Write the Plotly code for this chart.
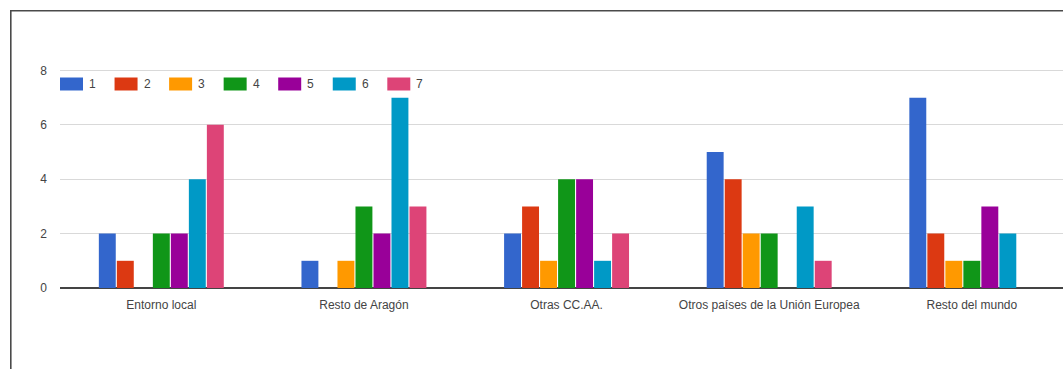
import plotly.graph_objects as go

# Categories and responses per rating (1..7)
categories = ["Entorno local", "Resto de Aragón", "Otras CC.AA.",
              "Otros países de la Unión Europea", "Resto del mundo"]
series_names = ["1", "2", "3", "4", "5", "6", "7"]
s1 = [2, 1, 2, 5, 7]
s2 = [1, 0, 3, 4, 2]
s3 = [0, 1, 1, 2, 1]
s4 = [2, 3, 4, 2, 1]
s5 = [2, 2, 4, 0, 3]
s6 = [4, 7, 1, 3, 2]
s7 = [6, 3, 2, 1, 0]
y_ticks = [0, 2, 4, 6, 8]

series_values = [s1, s2, s3, s4, s5, s6, s7]
colors = ["#3366cc", "#dc3912", "#ff9900", "#109618",
          "#990099", "#0099c6", "#dd4477"]

W, H = 1063, 369
ML, MR, MT, MB = 60, 0, 65, 81
PW, PH = W - ML - MR, H - MT - MB

def px_x(x):
    return (x - ML) / PW

def px_y(y):
    return (H - MB - y) / PH

font = "Liberation Sans, Arial, sans-serif"

fig = go.Figure()
for name, vals, col in zip(series_names, series_values, colors):
    fig.add_trace(go.Bar(
        x=categories, y=vals, name=name,
        marker=dict(color=col, line=dict(width=0)),
        showlegend=False,
    ))

shapes = []
annotations = []

# Legend row along the top of the plot
for i, (name, col) in enumerate(zip(series_names, colors)):
    left = 60 + 54.55 * i
    shapes.append(dict(
        type="rect", xref="paper", yref="paper",
        x0=px_x(left), x1=px_x(left + 23),
        y0=px_y(90.5), y1=px_y(77.5),
        fillcolor=col, line=dict(width=0), layer="above",
    ))
    annotations.append(dict(
        xref="paper", yref="paper",
        x=px_x(left + 27), y=px_y(84),
        text=name, showarrow=False, xanchor="left", yanchor="middle",
        font=dict(family=font, size=12, color="#444444"),
    ))

# Outer frame (top and left edges)
shapes.append(dict(type="line", xref="paper", yref="paper",
                   x0=px_x(10.5), x1=px_x(W + 5), y0=px_y(10.8), y1=px_y(10.8),
                   line=dict(color="#4a4a4a", width=1.6)))
shapes.append(dict(type="line", xref="paper", yref="paper",
                   x0=px_x(10.8), x1=px_x(10.8), y0=px_y(10), y1=px_y(H + 5),
                   line=dict(color="#4a4a4a", width=1.6)))

fig.update_layout(
    width=W, height=H,
    margin=dict(l=ML, r=MR, t=MT, b=MB, pad=0),
    paper_bgcolor="white", plot_bgcolor="white",
    barmode="group", bargap=0.378, bargroupgap=0.06,
    font=dict(family=font, size=12, color="#444444"),
    shapes=shapes, annotations=annotations,
    xaxis=dict(
        range=[-0.5, 4.45], showgrid=False, showline=False, ticks="",
        tickfont=dict(family=font, size=12, color="#444444"),
        ticklabelstandoff=8,
    ),
    yaxis=dict(
        range=[0, 8.2], tickvals=y_ticks, ticktext=[str(v) for v in y_ticks],
        showgrid=True, gridcolor="#d9d9d9", gridwidth=1,
        zeroline=True, zerolinecolor="#444444", zerolinewidth=1.5,
        showline=False, ticks="",
        tickfont=dict(family=font, size=12, color="#444444"),
        ticklabelstandoff=12,
    ),
)

fig.write_html("out.html")
